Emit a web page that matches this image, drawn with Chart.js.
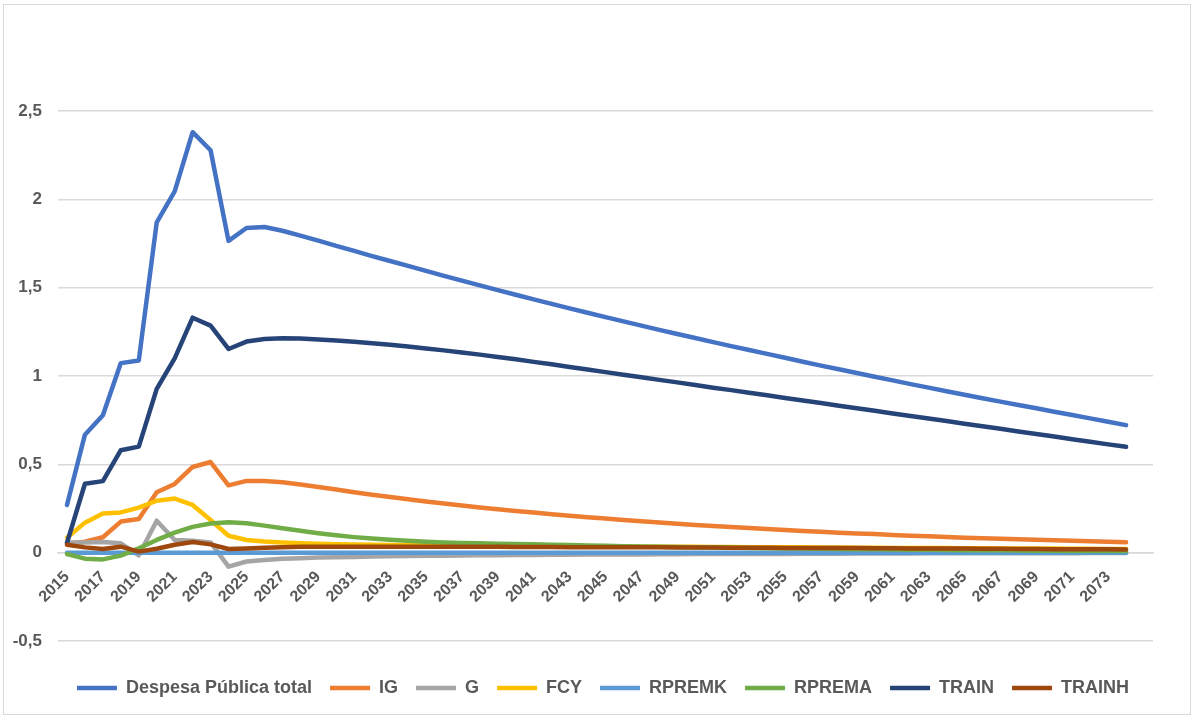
<!DOCTYPE html>
<html>
<head>
<meta charset="utf-8">
<script src="https://cdn.jsdelivr.net/npm/chart.js@4/dist/chart.umd.min.js"></script>
<style>
  html, body { margin: 0; padding: 0; background: #ffffff; }
  #wrap { position: relative; width: 1195px; height: 719px; }
  #frame { position: absolute; left: 3px; top: 4px; width: 1186px; height: 709px; border: 1px solid #d9d9d9; pointer-events: none; }
  canvas { position: absolute; left: 0; top: 0; }
</style>
</head>
<body>
<div id="wrap">
  <canvas id="c" width="1195" height="719"></canvas>
  <div id="frame"></div>
</div>
<script>
const years = ['2015','2016','2017','2018','2019','2020','2021','2022','2023','2024',
  '2025','2026','2027','2028','2029','2030','2031','2032','2033','2034',
  '2035','2036','2037','2038','2039','2040','2041','2042','2043','2044',
  '2045','2046','2047','2048','2049','2050','2051','2052','2053','2054',
  '2055','2056','2057','2058','2059','2060','2061','2062','2063','2064',
  '2065','2066','2067','2068','2069','2070','2071','2072','2073','2074','2075'];

const yTicks = [-0.5, 0, 0.5, 1, 1.5, 2, 2.5];

const despesa = [0.27,0.668,0.778,1.073,1.088,1.87,2.045,2.38,2.278,1.765,
  1.838,1.843,1.822,1.795,1.766,1.737,1.708,1.679,1.651,1.623,
  1.595,1.567,1.540,1.513,1.486,1.460,1.434,1.408,1.383,1.358,
  1.333,1.309,1.285,1.261,1.238,1.215,1.192,1.169,1.147,1.125,
  1.103,1.081,1.059,1.038,1.017,0.996,0.975,0.954,0.934,0.914,
  0.894,0.874,0.855,0.836,0.817,0.798,0.779,0.760,0.741,0.722];

const ig = [0.05,0.062,0.087,0.176,0.19,0.342,0.389,0.485,0.513,0.381,
  0.406,0.406,0.398,0.386,0.372,0.357,0.342,0.328,0.315,0.302,
  0.290,0.278,0.267,0.256,0.246,0.236,0.227,0.218,0.209,0.201,
  0.193,0.185,0.178,0.171,0.164,0.157,0.151,0.145,0.139,0.134,
  0.128,0.123,0.118,0.113,0.109,0.105,0.100,0.096,0.093,0.089,
  0.085,0.082,0.079,0.076,0.073,0.070,0.067,0.064,0.062,0.059];

const g = [0.058,0.058,0.06,0.053,-0.015,0.181,0.072,0.068,0.058,-0.079,
  -0.05,-0.041,-0.035,-0.031,-0.028,-0.026,-0.024,-0.022,-0.020,-0.019,
  -0.018,-0.017,-0.016,-0.015,-0.014,-0.013,-0.013,-0.012,-0.012,-0.011,
  -0.011,-0.010,-0.010,-0.009,-0.009,-0.008,-0.008,-0.008,-0.007,-0.007,
  -0.007,-0.006,-0.006,-0.006,-0.005,-0.005,-0.005,-0.005,-0.004,-0.004,
  -0.004,-0.004,-0.003,-0.003,-0.003,-0.003,-0.003,-0.002,-0.002,-0.002];

const fcy = [0.085,0.17,0.222,0.228,0.255,0.294,0.306,0.27,0.185,0.096,
  0.072,0.063,0.058,0.054,0.050,0.048,0.046,0.045,0.044,0.043,
  0.042,0.041,0.040,0.040,0.039,0.038,0.038,0.037,0.036,0.036,
  0.035,0.035,0.034,0.034,0.033,0.033,0.032,0.032,0.031,0.031,
  0.030,0.030,0.029,0.029,0.028,0.028,0.027,0.027,0.026,0.026,
  0.025,0.025,0.024,0.024,0.023,0.023,0.022,0.022,0.021,0.021];

const rpremk = [0,0,0,0,0,0,0,0,0,0,
  0,0,0,0,0,0,0,0,0,0,
  0,0,0,0,0,0,0,0,0,0,
  0,0,0,0,0,0,0,0,0,0,
  0,0,0,0,0,0,0,0,0,0,
  0,0,0,0,0,0,0,0,0,0];

const rprema = [-0.008,-0.034,-0.038,-0.017,0.025,0.072,0.113,0.146,0.165,0.172,
  0.166,0.153,0.138,0.124,0.110,0.098,0.088,0.080,0.073,0.067,
  0.062,0.058,0.055,0.053,0.051,0.049,0.047,0.045,0.043,0.041,
  0.039,0.037,0.035,0.034,0.032,0.031,0.029,0.028,0.027,0.025,
  0.024,0.023,0.022,0.021,0.020,0.019,0.018,0.017,0.016,0.015,
  0.014,0.013,0.013,0.012,0.011,0.011,0.010,0.010,0.009,0.009];

const train = [0.055,0.39,0.405,0.58,0.60,0.927,1.10,1.33,1.285,1.153,
  1.195,1.21,1.213,1.212,1.207,1.201,1.194,1.186,1.177,1.167,
  1.156,1.145,1.133,1.121,1.108,1.095,1.080,1.066,1.051,1.037,
  1.022,1.007,0.993,0.978,0.964,0.949,0.934,0.920,0.905,0.891,
  0.876,0.861,0.847,0.832,0.818,0.803,0.788,0.774,0.759,0.745,
  0.730,0.715,0.701,0.686,0.672,0.657,0.642,0.628,0.613,0.599];

const trainh = [0.045,0.03,0.021,0.034,0.006,0.022,0.045,0.06,0.047,0.021,
  0.024,0.028,0.031,0.033,0.034,0.034,0.034,0.034,0.034,0.034,
  0.034,0.033,0.033,0.033,0.033,0.032,0.032,0.032,0.031,0.031,
  0.031,0.030,0.030,0.030,0.029,0.029,0.029,0.028,0.028,0.028,
  0.027,0.027,0.026,0.026,0.026,0.025,0.025,0.024,0.024,0.023,
  0.023,0.022,0.022,0.021,0.021,0.020,0.020,0.019,0.019,0.018];

const seriesNames = ['Despesa Pública total','IG','G','FCY','RPREMK','RPREMA','TRAIN','TRAINH'];
const seriesData = [despesa, ig, g, fcy, rpremk, rprema, train, trainh];
const seriesColors = ['#4472C4','#ED7D31','#A5A5A5','#FFC000','#5B9BD5','#70AD47','#264478','#9E480E'];

const datasets = seriesNames.map((name, i) => ({
  label: name,
  data: seriesData[i],
  borderColor: seriesColors[i],
  backgroundColor: seriesColors[i],
  borderWidth: 4.5,
  borderCapStyle: 'round',
  borderJoinStyle: 'round',
  pointRadius: 0,
  pointHoverRadius: 0,
  tension: 0,
  fill: false,
  order: seriesNames.length - 1 - i
}));

const fontFam = '"Liberation Sans", Arial, sans-serif';

const legendShift = {
  id: 'legendShift',
  afterLayout(chart) {
    if (chart.legend) { chart.legend.left += 53; }
  }
};

new Chart(document.getElementById('c'), {
  type: 'line',
  data: { labels: years, datasets: datasets },
  plugins: [legendShift],
  options: {
    responsive: false,
    animation: false,
    events: [],
    layout: { padding: { left: 0, right: 42, top: 111, bottom: 12 } },
    scales: {
      x: {
        type: 'category',
        position: { y: 0 },
        offset: true,
        grid: { display: false, drawTicks: false },
        border: { display: true, color: '#d9d9d9', width: 1.5 },
        ticks: {
          autoSkip: false,
          maxRotation: 45,
          minRotation: 45,
          padding: 15,
          color: '#595959',
          font: { family: fontFam, size: 16, weight: 'bold' },
          callback: (v, i) => (i % 2 === 0 && i < 60) ? years[i] : ''
        }
      },
      y: {
        min: -0.5,
        max: 2.5,
        afterBuildTicks: (s) => { s.ticks = yTicks.map(v => ({ value: v })); },
        afterFit: (s) => { s.width = 58; },
        grid: { color: '#d9d9d9', lineWidth: 1.5, drawTicks: false },
        border: { display: false },
        ticks: {
          padding: 16,
          color: '#595959',
          font: { family: fontFam, size: 17, weight: 'bold' },
          callback: (v) => String(v).replace('.', ',')
        }
      }
    },
    plugins: {
      tooltip: { enabled: false },
      legend: {
        position: 'bottom',
        title: { display: true, text: '', font: { size: 10 }, padding: { top: 8, bottom: 0 } },
        labels: {
          usePointStyle: true,
          pointStyle: 'line',
          pointStyleWidth: 40,
          padding: 18,
          color: '#595959',
          font: { family: fontFam, size: 18, weight: 'bold' },
          sort: (a, b) => a.datasetIndex - b.datasetIndex
        }
      }
    }
  }
});
</script>
</body>
</html>
